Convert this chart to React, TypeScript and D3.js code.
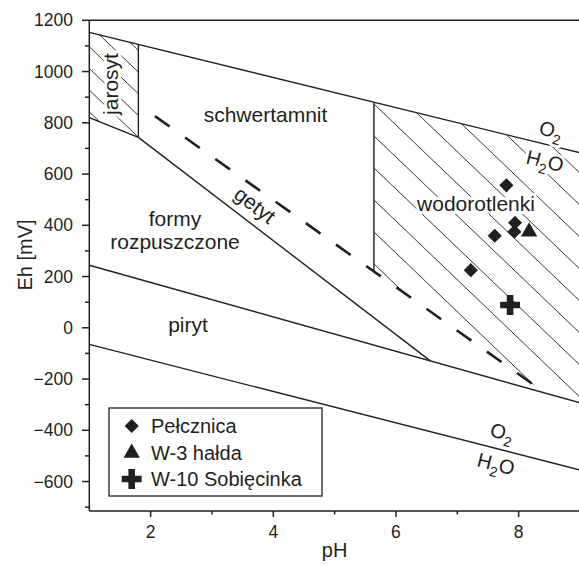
import React from 'react';
import * as d3 from 'd3';

// Eh–pH diagram, points
const upperWater = [[1, 1153], [9, 683]];
const lowerWater = [[1, -65], [9, -555]];
const jarosytBottom = [[1, 820], [1.8, 743]];
const jarosytEdge = [[1.8, 1106], [1.8, 743]];
const getytLine = [[1.8, 743], [6.56, -129]];
const pirytLine = [[1, 244], [9, -293]];
const wodorEdge = [[5.64, 880], [5.64, 220]];
const schwertLine = [[2.07, 826], [8.43, -254]];

const jarosytArea = [[1, 1153], [1.8, 1106], [1.8, 743], [1, 820]];
const wodorArea = [[5.64, 880], [9, 683], [9, -293], [8.43, -254], [5.64, 220]];

const pelcznicaPH = [7.8, 7.94, 7.93, 7.61, 7.22];
const pelcznicaEh = [556, 410, 375, 359, 225];
const haldaPH = [8.17];
const haldaEh = [375];
const sobiecinkaPH = [7.86];
const sobiecinkaEh = [89];

const xTicks = [2, 4, 6, 8];
const xMinor = [3, 5, 7, 9];
const yTicks = [1200, 1000, 800, 600, 400, 200, 0, -200, -400, -600];
const yMinor = [1100, 900, 700, 500, 300, 100, -100, -300, -500, -700];

const legendNames = ['Pełcznica', 'W-3 hałda', 'W-10 Sobięcinka'];

const ink = '#231f20';
const font = 'Liberation Sans, Arial, Helvetica, sans-serif';

const App = () => {
  const width = 579;
  const height = 565;
  const x = d3.scaleLinear().domain([1, 9]).range([89.3, 580]);
  const y = d3.scaleLinear().domain([-715, 1200]).range([511, 20.3]);

  const line = d3.line<number[]>().x((d) => x(d[0])).y((d) => y(d[1]));
  const poly = (pts: number[][]) => pts.map((p) => `${x(p[0])},${y(p[1])}`).join(' ');

  const diamond = d3.symbol(d3.symbolSquare, 100)();
  const triangle = d3.symbol(d3.symbolTriangle, 115)();
  const cross = d3.symbol(d3.symbolCross, 220)();

  // hatching, drawn in pixel space and clipped to the areas
  const hatch = (c0: number, step: number, m: number, from: number, to: number) => {
    const out = [];
    for (let c = c0 - step * 20; c < c0 + step * 30; c += step) {
      out.push({ x1: from, y1: m * from + c, x2: to, y2: m * to + c });
    }
    return out;
  };
  const wodorHatch = hatch(104 - 0.957 * 374, 32, 0.957, 360, 600);
  const jarosytHatch = hatch(46.7 - 0.96 * 89.3, 21.7, 0.96, 80, 150);

  const solid = [upperWater, lowerWater, jarosytBottom, jarosytEdge, getytLine, pirytLine, wodorEdge];

  const halo = { paintOrder: 'stroke' as const, stroke: '#fff', strokeWidth: 6, strokeLinejoin: 'round' as const };

  return (
    <svg width={width} height={height} style={{ position: 'absolute', left: 0, top: 0, background: '#fff' }}
      fontFamily={font}>
      <defs>
        <clipPath id="clip-jar"><polygon points={poly(jarosytArea)} /></clipPath>
        <clipPath id="clip-wod"><polygon points={poly(wodorArea)} /></clipPath>
      </defs>

      <g clipPath="url(#clip-jar)" stroke={ink} strokeWidth={0.9}>
        {jarosytHatch.map((l, i) => <line key={i} {...l} />)}
      </g>
      <g clipPath="url(#clip-wod)" stroke={ink} strokeWidth={0.9}>
        {wodorHatch.map((l, i) => <line key={i} {...l} />)}
      </g>

      {solid.map((s, i) => (
        <path key={i} d={line(s) || ''} fill="none" stroke={ink} strokeWidth={1.4} />
      ))}
      <path d={line(schwertLine) || ''} fill="none" stroke={ink} strokeWidth={2.6} strokeDasharray="18 19" />

      {/* frame and axes */}
      <g stroke={ink} strokeWidth={1.5}>
        <line x1={x(1)} x2={x(9)} y1={y(1200)} y2={y(1200)} />
        <line x1={x(9)} x2={x(9)} y1={y(1200)} y2={y(-715)} />
        <line x1={x(1)} x2={x(9)} y1={y(-715)} y2={y(-715)} />
        <line x1={x(1)} x2={x(1)} y1={y(1200)} y2={y(-715)} />
        {xTicks.map((t) => <line key={t} x1={x(t)} x2={x(t)} y1={511} y2={517} />)}
        {xMinor.map((t) => <line key={t} x1={x(t)} x2={x(t)} y1={511} y2={514.5} />)}
        {yTicks.map((t) => <line key={t} x1={82} x2={x(1)} y1={y(t)} y2={y(t)} />)}
        {yMinor.map((t) => <line key={t} x1={85} x2={x(1)} y1={y(t)} y2={y(t)} />)}
      </g>
      <g fill={ink} fontSize={17.5}>
        {xTicks.map((t) => <text key={t} x={x(t)} y={538} textAnchor="middle">{t}</text>)}
        {yTicks.map((t) => (
          <text key={t} x={73} y={y(t)} dy="0.35em" textAnchor="end">{t < 0 ? `−${-t}` : t}</text>
        ))}
      </g>
      <text x={x(5)} y={557} textAnchor="middle" fontSize={20} fill={ink}>pH</text>
      <text transform="translate(31.5,255) rotate(-90)" textAnchor="middle" fontSize={20} fill={ink}>Eh [mV]</text>

      {/* region labels */}
      <g fill={ink} fontSize={21} textAnchor="middle">
        <text transform="translate(118,84) rotate(-90)" style={halo}>jarosyt</text>
        <text x={265.5} y={122}>schwertamnit</text>
        <text transform="translate(255,205) rotate(37.4)" dy="0.35em">getyt</text>
        <text x={175} y={226}>formy</text>
        <text x={175} y={249}>rozpuszczone</text>
        <text x={188} y={332}>piryt</text>
        <text x={476} y={210.5} style={halo}>wodorotlenki</text>
        <text transform="translate(551,130) rotate(14)" dy="0.35em" style={halo} fontSize={20}>
          O<tspan fontSize={14} dy="6">2</tspan>
        </text>
        <text transform="translate(545,161) rotate(14)" dy="0.35em" style={halo} fontSize={20}>
          H<tspan fontSize={14} dy="6">2</tspan><tspan dy="-6">O</tspan>
        </text>
        <text transform="translate(502,432) rotate(14.3)" dy="0.35em" fontSize={20}>
          O<tspan fontSize={14} dy="6">2</tspan>
        </text>
        <text transform="translate(496,464) rotate(14.3)" dy="0.35em" fontSize={20}>
          H<tspan fontSize={14} dy="6">2</tspan><tspan dy="-6">O</tspan>
        </text>
      </g>

      {/* samples */}
      <g fill={ink}>
        {pelcznicaPH.map((p, i) => (
          <path key={i} d={diamond || ''} transform={`translate(${x(p)},${y(pelcznicaEh[i])}) rotate(45)`} />
        ))}
        {haldaPH.map((p, i) => (
          <path key={i} d={triangle || ''} transform={`translate(${x(p)},${y(haldaEh[i])})`} />
        ))}
        {sobiecinkaPH.map((p, i) => (
          <path key={i} d={cross || ''} transform={`translate(${x(p)},${y(sobiecinkaEh[i])})`} />
        ))}
      </g>

      {/* legend */}
      <rect x={109} y={408} width={213} height={88} fill="#fff" stroke={ink} strokeWidth={1.3} />
      <g fill={ink}>
        <path d={diamond || ''} transform="translate(131.7,426) rotate(45)" />
        <path d={triangle || ''} transform="translate(131.7,453)" />
        <path d={cross || ''} transform="translate(131.7,479)" />
      </g>
      <g fill={ink} fontSize={20}>
        {legendNames.map((n, i) => (
          <text key={n} x={151} y={426 + i * 26.5} dy="0.35em">{n}</text>
        ))}
      </g>
    </svg>
  );
};

export default App;
